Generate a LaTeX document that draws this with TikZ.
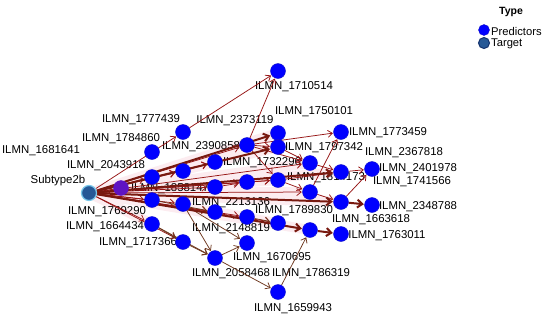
\documentclass[tikz,border=0pt]{standalone}
\usepackage{fontspec}
\setmainfont{Liberation Sans}
\usetikzlibrary{arrows.meta}
\pgfdeclarelayer{bg}
\pgfdeclarelayer{lab}
\pgfdeclarelayer{halo}
\pgfdeclarelayer{edges}
\pgfsetlayers{bg,halo,lab,edges,main}
\definecolor{predblue}{RGB}{0,0,255}
\definecolor{predborder}{RGB}{20,20,200}
\definecolor{tgtfill}{RGB}{38,88,150}
\definecolor{tgtring}{RGB}{120,200,235}
\definecolor{tgtborder}{RGB}{20,50,110}
\definecolor{edgered}{RGB}{150,20,20}
\definecolor{edgebrown}{RGB}{110,55,30}
\definecolor{edgethick}{RGB}{120,25,15}
\definecolor{halopink}{RGB}{252,236,240}
\definecolor{mixnode}{RGB}{95,20,195}
\begin{document}
\begin{tikzpicture}[x=1pt,y=-1pt,
  font=\fontsize{11.4}{13}\selectfont,
  pred/.style={circle, fill=predblue, draw=predborder, line width=0.4pt, minimum size=15pt, inner sep=0pt},
  tgt/.style={circle, fill=tgtfill, draw=tgtring, line width=1.2pt, minimum size=15pt, inner sep=0pt},
  lbl/.style={inner sep=0pt, anchor=center, text=black},
  thinedge/.style={draw=edgered, line width=0.75pt, -{Straight Barb[length=4.5pt,width=7pt]}, shorten >=0.5pt},
  brownedge/.style={draw=edgebrown, line width=0.75pt, -{Straight Barb[length=4.5pt,width=7pt]}, shorten >=0.5pt},
  thickedge/.style={draw=edgethick, line width=2pt, -{Straight Barb[length=5pt,width=8pt]}, shorten >=0.5pt},
  haloedge/.style={draw=halopink, line width=10pt, line cap=round},
  legtitle/.style={inner sep=0pt, font=\fontsize{10.5}{12}\selectfont\bfseries},
  legtext/.style={inner sep=0pt, anchor=west, font=\fontsize{11.2}{13}\selectfont}]
\begin{pgfonlayer}{bg}
\fill[white] (0,0) rectangle (550,322);
\end{pgfonlayer}
\useasboundingbox (0,0) rectangle (550,322);

% nodes
\node[tgt] (T) at (89,193) {};
\node[pred] (n1) at (278,71) {};
\node[pred] (n2) at (183,132) {};
\node[pred] (n3) at (152,152) {};
\node[pred] (n4) at (152,177) {};
\node[pred, fill=mixnode, draw=mixnode] (n5) at (121,188) {};
\node[pred] (n6) at (152,200) {};
\node[pred] (n7) at (152,224) {};
\node[pred] (n8) at (183,171) {};
\node[pred] (n9) at (183,204) {};
\node[pred] (n10) at (183,242) {};
\node[pred] (n11) at (215,162) {};
\node[pred] (n12) at (215,187) {};
\node[pred] (n13) at (215,212) {};
\node[pred] (n14) at (215,258) {};
\node[pred] (n15) at (247,145) {};
\node[pred] (n16) at (247,182) {};
\node[pred] (n17) at (247,217) {};
\node[pred] (n18) at (247,243) {};
\node[pred] (n19) at (278,133) {};
\node[pred] (n20) at (278,147) {};
\node[pred] (n21) at (278,180) {};
\node[pred] (n22) at (278,223) {};
\node[pred] (n23) at (278,292) {};
\node[pred] (n24) at (310,163) {};
\node[pred] (n25) at (310,192) {};
\node[pred] (n26) at (310,230) {};
\node[pred] (n27) at (341,132) {};
\node[pred] (n28) at (341,172) {};
\node[pred] (n29) at (341,202) {};
\node[pred] (n30) at (341,234) {};
\node[pred] (n31) at (372,169) {};
\node[pred] (n32) at (372,205) {};

% labels
\begin{pgfonlayer}{lab}
\node[lbl] (lT) at (58,181) {Subtype2b};
\node[lbl] (l1) at (294,87) {ILMN\_1710514};
\node[lbl] (l2) at (314,112) {ILMN\_1750101};
\node[lbl] (l3) at (235,121) {ILMN\_2373119};
\node[lbl] (l4) at (141,120) {ILMN\_1777439};
\node[lbl] (l5) at (121,139) {ILMN\_1784860};
\node[lbl] (l6) at (41,151) {ILMN\_1681641};
\node[lbl] (l7) at (106,166) {ILMN\_2043918};
\node[lbl] (l8) at (201,147) {ILMN\_2390858};
\node[lbl] (l9) at (262,163) {ILMN\_1732296};
\node[lbl] (l10) at (324,148) {ILMN\_1797342};
\node[lbl] (l11) at (388,133) {ILMN\_1773459};
\node[lbl] (l12) at (404,153) {ILMN\_2367818};
\node[lbl] (l13) at (418,169) {ILMN\_2401978};
\node[lbl] (l14) at (412,182) {ILMN\_1741566};
\node[lbl] (l15) at (418,207) {ILMN\_2348788};
\node[lbl] (l16) at (371,220) {ILMN\_1663618};
\node[lbl] (l17) at (387,236) {ILMN\_1763011};
\node[lbl] (l18) at (326,178) {ILMN\_1814173};
\node[lbl] (l19) at (170,189) {ILMN\_1858147};
\node[lbl] (l20) at (231,203) {ILMN\_2213136};
\node[lbl] (l21) at (294,211) {ILMN\_1789830};
\node[lbl] (l22) at (231,229) {ILMN\_2148819};
\node[lbl] (l23) at (107,212) {ILMN\_1769290};
\node[lbl] (l24) at (105,227) {ILMN\_1664434};
\node[lbl] (l25) at (138,243) {ILMN\_1717366};
\node[lbl] (l26) at (272,258) {ILMN\_1670695};
\node[lbl] (l27) at (231,274) {ILMN\_2058468};
\node[lbl] (l28) at (311,274) {ILMN\_1786319};
\node[lbl] (l29) at (293,309) {ILMN\_1659943};
\end{pgfonlayer}

% pink haze around the fan from the target
\begin{pgfonlayer}{halo}
\foreach \b in {n8,n11,n12,n16,n24,n21,n25,n28,n29,n26,n9,n13,n17,n22,n6,n7,n5,n4,n19,n20}
  \draw[haloedge] (T.center) -- (\b.center);
\end{pgfonlayer}

% edges
\begin{pgfonlayer}{edges}
\foreach \a/\b in {T/n2,T/n4,T/n5,T/n6,T/n7,T/n10,T/n8,T/n15,T/n11,T/n12,T/n16,T/n24,T/n25,T/n21,T/n13,T/n17,T/n22,T/n9,
  n2/n1,n15/n1,n15/n27,n15/n20,n15/n24,n15/n21,n20/n24,n8/n11,n4/n8,n12/n16,n16/n21,n21/n25,n21/n28,n25/n27,n25/n29,n28/n31,n29/n31,n24/n28}
  \draw[thinedge] (\a) -- (\b);
\foreach \a/\b in {n7/n10,n7/n14,n10/n14,n9/n14,n9/n18,n14/n18,n14/n23,n23/n26,n17/n22,n6/n13}
  \draw[brownedge] (\a) -- (\b);
\foreach \a/\b in {T/n19,T/n20,T/n26,T/n29,T/n28,n29/n32,n26/n30}
  \draw[thickedge] (\a) -- (\b);
\end{pgfonlayer}

% legend
\node[legtitle] (legT) at (511,12) {Type};
\node[circle, fill=predblue, draw=predborder, line width=0.4pt, minimum size=11pt, inner sep=0pt] (legP) at (484,30) {};
\node[legtext] (legPt) at (491,31) {Predictors};
\node[circle, fill=tgtfill, draw=tgtborder, line width=1pt, minimum size=11pt, inner sep=0pt] (legG) at (484,43) {};
\node[legtext] (legGt) at (491,44) {Target};
\end{tikzpicture}
\end{document}
